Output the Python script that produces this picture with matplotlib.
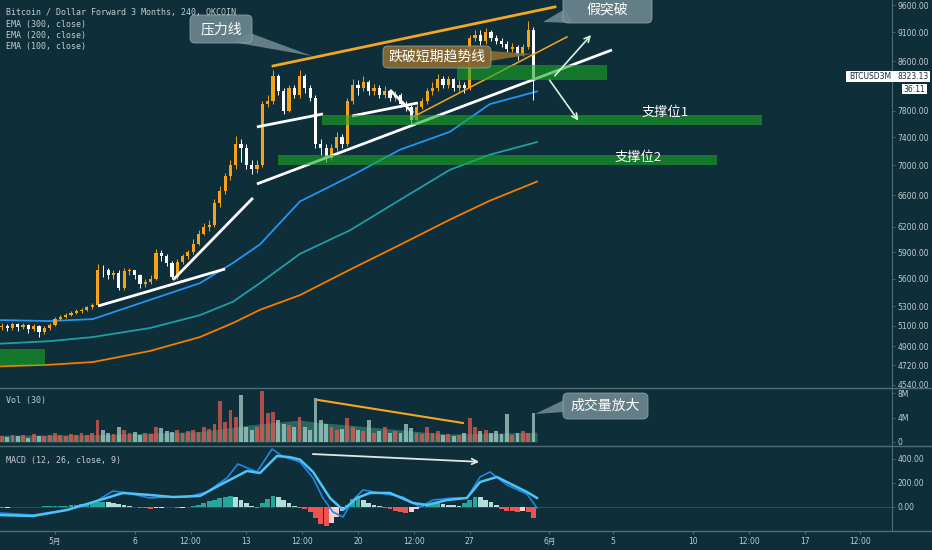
import numpy as np
import matplotlib
matplotlib.use("Agg")
from matplotlib import pyplot as plt
from matplotlib.patches import FancyBboxPatch, Polygon, Rectangle
from matplotlib.ticker import FixedLocator, NullLocator

plt.rcParams['font.family'] = ['DejaVu Sans', 'Noto Sans CJK SC']

#-----------------------------------------------------------------------------------------
# 8h candles, time in days since 1 May 00:00

start_day = -10 / 3
step = 1 / 3

close = [5100, 5080, 5120, 5090, 5110, 5070, 5100, 5040, 5080, 5110,
         5170, 5190, 5210, 5230, 5250, 5260, 5290, 5320, 5700, 5690,
         5640, 5660, 5500, 5680, 5690, 5640, 5540, 5560, 5600, 5890,
         5850, 5780, 5620, 5790, 5850, 5900, 6000, 6120, 6200, 6230,
         6500, 6650, 6850, 7000, 7300, 7250, 7000, 6950, 7000, 7900,
         7950, 8350, 8100, 7800, 8150, 8050, 8350, 8150, 8000, 7300,
         7250, 7100, 7250, 7400, 7300, 7950, 8200, 8150, 8250, 8100,
         8150, 8050, 8100, 8000, 8050, 7900, 7850, 7650, 7850, 7950,
         8100, 8150, 8300, 8200, 8300, 8150, 8200, 8150, 9000, 9050,
         8950, 9100, 9000, 8950, 8900, 8800, 8850, 8700, 8850, 9150,
         8323]
high = [5130, 5120, 5140, 5130, 5130, 5120, 5120, 5110, 5100, 5130,
        5190, 5210, 5230, 5250, 5270, 5280, 5310, 5340, 5760, 5750,
        5720, 5700, 5690, 5720, 5720, 5700, 5650, 5600, 5640, 5940,
        5930, 5880, 5800, 5820, 5880, 5930, 6050, 6160, 6250, 6290,
        6550, 6720, 6900, 7080, 7420, 7380, 7300, 7080, 7080, 7950,
        8050, 8450, 8380, 8150, 8200, 8200, 8450, 8380, 8200, 8050,
        7380, 7300, 7300, 7480, 7450, 8000, 8300, 8280, 8350, 8280,
        8220, 8200, 8180, 8120, 8100, 8080, 7950, 7880, 7900, 8000,
        8150, 8250, 8380, 8350, 8350, 8320, 8280, 8250, 9050, 9150,
        9150, 9180, 9150, 9050, 9000, 8950, 8920, 8880, 8900, 9300,
        9200]
low = [5060, 5050, 5060, 5050, 5070, 5030, 5050, 4990, 5020, 5060,
       5100, 5160, 5180, 5200, 5220, 5230, 5250, 5270, 5300, 5620,
       5600, 5600, 5470, 5480, 5640, 5600, 5500, 5510, 5540, 5580,
       5800, 5740, 5600, 5600, 5760, 5820, 5880, 5980, 6100, 6150,
       6200, 6450, 6620, 6800, 6950, 7050, 6950, 6880, 6900, 6980,
       7850, 7900, 8050, 7750, 7780, 8000, 8000, 8080, 7950, 7250,
       7150, 7050, 7080, 7200, 7250, 7280, 7900, 8050, 8100, 8050,
       8050, 8000, 8000, 7950, 7950, 7850, 7800, 7580, 7640, 7820,
       7900, 8050, 8100, 8150, 8150, 8100, 8100, 8080, 8120, 8950,
       8880, 8900, 8950, 8900, 8850, 8750, 8750, 8620, 8680, 8800,
       7960]
first_open = 5090

volume_m = [1.0, 0.8, 1.2, 0.9, 1.1, 0.7, 1.3, 0.9, 1.0, 1.2,
            1.5, 1.2, 1.0, 1.3, 1.1, 1.4, 1.2, 1.5, 3.6, 2.0,
            1.5, 1.3, 2.5, 2.0, 1.4, 1.6, 1.2, 1.5, 1.3, 2.5,
            2.3, 1.8, 1.6, 2.0, 1.5, 1.8, 2.0, 1.7, 2.5, 2.2,
            3.0, 6.7, 3.2, 5.2, 4.1, 7.7, 2.5, 2.0, 2.5, 8.4,
            4.7, 4.9, 3.6, 3.0, 2.8, 2.5, 4.1, 2.5, 2.0, 7.2,
            3.6, 3.0, 2.5, 2.0, 2.2, 4.0, 2.5, 2.0, 1.8, 3.6,
            1.5, 1.8, 2.5, 1.5, 1.8, 1.5, 3.0, 2.3, 1.5, 1.3,
            2.5, 1.5, 1.8, 1.2, 1.3, 1.0, 1.2, 1.5, 3.9, 2.5,
            1.8, 2.0, 1.5, 1.8, 1.3, 4.6, 1.2, 1.5, 1.8, 1.5,
            4.7]

hist = [-12, -8, -4, -2, 0, 2, 3, 4, 5, 6,
        8, 10, 12, 15, 18, 22, 28, 34,
        40, 42, 38, 30, 22,
        15, 8, 2, -5, -10,
        -15, -10, -5, 2, -3, -8,
        -5, 2, 10, 20, 35, 50,
        60, 72, 85, 92, 80, 60,
        30, 5, -5,
        30, 65, 92, 85, 60, 30,
        5, -10, -20, -40,
        -90, -140, -160, -130, -80, -30,
        20, 70, 75, 55, 35, 15, 5,
        -5, -15, -30, -45, -50, -40, -20,
        5, 20, 30, 30, 25, 20, 15, 10,
        30, 60, 85, 80, 60, 40, 15,
        -15, -30, -35, -40, -35, -45, -90]

ema_days = [-3.45, -0.31, 2.38, 5.96, 9.09, 11.16, 12.85, 15.36, 18.50, 21.63, 24.76, 27.27, 30.22]
ema100 = [5160, 5150, 5170, 5370, 5550, 5775, 5990, 6520, 6850, 7220, 7480, 7900, 8100]
ema200 = [4925, 4950, 4990, 5080, 5210, 5350, 5550, 5880, 6160, 6540, 6940, 7150, 7330]
ema300 = [4710, 4725, 4750, 4855, 4990, 5130, 5265, 5420, 5700, 5985, 6290, 6530, 6780]

vol_ma_days = [-3.45, 2.82, 9.09, 12.23, 15.36, 16.18, 18.31, 20.38, 22.45, 24.58, 26.65, 30.22]
vol_ma = [1.1, 1.2, 1.7, 2.8, 3.6, 3.3, 2.8, 2.3, 1.8, 1.3, 1.4, 1.6]

macd_days = [-3.45, -1.38, 0.75, 2.38, 3.64, 4.51, 5.96, 7.02, 8.28, 9.53,
             10.78, 11.47, 12.66, 13.61, 14.29, 15.36, 16.18, 16.80, 17.43, 18.06,
             18.68, 19.31, 20.38, 21.82, 22.88, 23.70, 24.95, 25.83, 26.65, 27.27,
             28.34, 29.59, 30.22]
macd = [-50, -67, -25, 33, 133, 117, 75, 83, 83, 125,
        242, 358, 292, 483, 420, 375, 242, 75, -42, -83,
        58, 142, 117, 83, 0, 58, 75, 75, 250, 292,
        183, 108, -8]
signal_days = [-3.45, -1.38, 0.75, 2.82, 4.26, 5.96, 7.40, 9.09, 10.34, 12.04,
               12.85, 13.92, 14.73, 15.36, 16.18, 17.24, 18.06, 18.93, 19.75, 21.00,
               22.45, 23.32, 24.58, 25.83, 26.65, 27.71, 28.71, 29.59, 30.22]
signal = [-67, -75, -25, 58, 117, 100, 83, 92, 183, 300,
          283, 425, 415, 395, 292, 75, -25, 75, 117, 117,
          33, 17, 58, 75, 208, 250, 183, 125, 75]

price_ticks = [4540, 4720, 4900, 5100, 5300, 5600, 5900, 6200, 6600, 7000, 7400, 7800, 8600, 9100, 9600]
vol_ticks = [0, 4, 8]
vol_tick_labels = ['0', '4M', '8M']
macd_ticks = [0, 200, 400]
date_ticks = [0, 5, 8.5, 12, 15.5, 19, 22.5, 26, 31, 35, 40, 43.5, 47, 50.5]
date_labels = ['5月', '6', '12:00', '13', '12:00', '20', '12:00', '27', '6月', '5', '10', '12:00', '17', '12:00']

# drawings: (day, price)
resist_line = [(13.67, 8517), (31.35, 9569)]
short_trend = [(22.45, 7702), (32.10, 9019)]
white_lines = [[(2.70, 5305), (10.66, 5707)],
               [(7.40, 5585), (12.41, 6565)],
               [(12.66, 7552), (16.80, 7748)],
               [(12.66, 6749), (34.92, 8790)],
               [(18.62, 7717), (22.76, 7918)],
               [(21.00, 8123), (22.45, 7763)]]
zones = [(-3.45, -0.63, 4723, 4874),
         (25.20, 34.61, 8286, 8535),
         (16.74, 44.33, 7582, 7733),
         (13.98, 41.50, 7007, 7146)]
last_price = 8323.13

#-----------------------------------------------------------------------------------------

bg = '#0e2e3a'
grid_c = '#4f6c76'
txt_c = '#c3cdd1'
up_c = '#f7a21b'
dn_c = '#ffffff'

o = np.array([first_open] + close[:-1], dtype=float)
c = np.array(close, dtype=float)
h = np.array(high, dtype=float)
l = np.array(low, dtype=float)
t = start_day + step * np.arange(len(c))
is_up = c >= o
candle_colors = np.where(is_up, up_c, dn_c)

W, H = 932, 550
fig = plt.figure(figsize=(W / 100, H / 100), dpi=100, facecolor=bg)
right = 892 / W
ax = fig.add_axes([0, 1 - 388 / H, right, 388 / H], facecolor=bg)
ax_v = fig.add_axes([0, 1 - 446 / H, right, 58 / H], facecolor=bg)
ax_m = fig.add_axes([0, 1 - 531 / H, right, 85 / H], facecolor=bg)

xlim = (-3.448, 52.48)
for a in (ax, ax_v, ax_m):
    a.set_xlim(*xlim)
    for s in ('top', 'left', 'bottom'):
        a.spines[s].set_visible(False)
    a.spines['right'].set_color(grid_c)
    a.yaxis.tick_right()
    a.tick_params(axis='y', which='both', labelsize=5.5, colors=grid_c, labelcolor=txt_c,
                  length=2.5, width=0.6, pad=1.5)
ax.set_xticks([])
ax_v.set_xticks([])

# price panel
ax.set_yscale('log')
ax.set_ylim(4513, 9700)
ax.yaxis.set_major_locator(FixedLocator(price_ticks))
ax.yaxis.set_minor_locator(NullLocator())
ax.set_yticklabels([f"{v:.2f}" for v in price_ticks])

ax.plot(ema_days, ema300, color='#f57c00', lw=1.3, zorder=2)
ax.plot(ema_days, ema200, color='#1e9fa3', lw=1.3, zorder=2)
ax.plot(ema_days, ema100, color='#2196f3', lw=1.3, zorder=2)

ax.vlines(t, l, h, colors=candle_colors, lw=0.7, zorder=3)
ax.bar(t, np.maximum(np.abs(c - o), 8), bottom=np.minimum(o, c), width=0.2,
       color=candle_colors, zorder=3)

(x0, y0), (x1, y1) = resist_line
ax.plot([x0, x1], [y0, y1], color='#f5a623', lw=2, zorder=4)
(x0, y0), (x1, y1) = short_trend
ax.plot([x0, x1], [y0, y1], color='#f5a623', lw=1.1, zorder=4)
for (x0, y0), (x1, y1) in white_lines:
    ax.plot([x0, x1], [y0, y1], color='white', lw=2, zorder=4, solid_capstyle='butt')

for ta, tb, pa, pb in zones:
    ax.add_patch(Rectangle((ta, pa), tb - ta, pb - pa, facecolor='#1ba924', alpha=0.6,
                           edgecolor='none', zorder=5))

arrow_kw = dict(arrowstyle='->', color='#d9f3dc', lw=1.2, mutation_scale=10)
ax.annotate('', xy=(33.73, 9090), xytext=(31.22, 8319), arrowprops=arrow_kw, zorder=6)
ax.annotate('', xy=(32.92, 7612), xytext=(30.91, 8319), arrowprops=arrow_kw, zorder=6)

cjk = ['Noto Sans CJK SC', 'DejaVu Sans']
ax.text(38.24, 7779, '支撑位1', color='white', fontsize=9.5, family=cjk,
        ha='center', va='center', zorder=7)
ax.text(36.55, 7118, '支撑位2', color='white', fontsize=9.5, family=cjk,
        ha='center', va='center', zorder=7)

mono = 'DejaVu Sans Mono'
hdr = ['Bitcoin / Dollar Forward 3 Months, 240, OKCOIN',
       'EMA (300, close)', 'EMA (200, close)', 'EMA (100, close)']
for k, s in enumerate(hdr):
    fig.text(6 / W, 1 - (13 + 11.3 * k) / H, s, fontsize=6, family=mono, color=txt_c, va='center')

# volume panel
ax_v.set_ylim(-0.66, 8.85)
ax_v.set_yticks(vol_ticks)
ax_v.set_yticklabels(vol_tick_labels)
ax_v.fill_between(vol_ma_days, 0, vol_ma, color='#28665f', lw=0, zorder=1)
vol_colors = np.where(is_up, '#e35a52', '#a9cec8')
ax_v.bar(t, volume_m, width=0.24, color=vol_colors, alpha=0.75, zorder=2)
ax_v.plot([16.49, 25.58], [6.89, 3.11], color='#f5a623', lw=1.5, zorder=3)
fig.text(6 / W, 1 - 400 / H, 'Vol (30)', fontsize=6, family=mono, color=txt_c, va='center')

# MACD panel
ax_m.set_ylim(-200, 508)
ax_m.set_yticks(macd_ticks)
ax_m.set_yticklabels([f"{v:.2f}" for v in macd_ticks])
hv = np.array(hist, dtype=float)
prev = np.concatenate([[hv[0]], hv[:-1]])
hcols = np.where(hv >= 0, np.where(hv >= prev, '#26a69a', '#b2dfdb'),
                 np.where(hv <= prev, '#ef5350', '#ffcdd2'))
ax_m.bar(t, hv, width=0.3, color=hcols, zorder=2)
ax_m.axhline(0, color='#3c5a64', lw=0.5, zorder=1)
ax_m.plot(macd_days, macd, color='#1e88e5', lw=1.2, zorder=3)
ax_m.plot(signal_days, signal, color='#4fc3f7', lw=1.8, zorder=3)
ax_m.annotate('', xy=(26.77, 375), xytext=(15.99, 442),
              arrowprops=dict(arrowstyle='->', color='#e2e8ea', lw=1.3, mutation_scale=10))
fig.text(6 / W, 1 - 460 / H, 'MACD (12, 26, close, 9)', fontsize=6, family=mono,
         color=txt_c, va='center')

ax_m.set_xticks(date_ticks)
ax_m.set_xticklabels(date_labels)
ax_m.tick_params(axis='x', labelsize=5.5, colors=grid_c, labelcolor=txt_c, length=2, pad=2.5)

# overlay in pixel coordinates for separators, callouts and price label
ov = fig.add_axes([0, 0, 1, 1])
ov.set_xlim(0, W)
ov.set_ylim(H, 0)
ov.axis('off')
ov.patch.set_alpha(0)
for yy in (388, 446, 531):
    ov.plot([0, W], [yy, yy], color=grid_c, lw=1)


def callout(x0, y0, x1, y1, base, tip, text, fc):
    ov.add_patch(Polygon(base + [tip], closed=True, facecolor=fc, edgecolor='none', alpha=0.92))
    ov.add_patch(FancyBboxPatch((x0, y0), x1 - x0, y1 - y0,
                                boxstyle='round,pad=0,rounding_size=5',
                                facecolor=fc, edgecolor='#8fa4ab', lw=0.6, alpha=0.92))
    ov.text((x0 + x1) / 2, (y0 + y1) / 2, text, color='white', fontsize=10,
            family=cjk, ha='center', va='center')


callout(190, 15, 252, 43, [(232, 42), (250, 33)], (312, 56), '压力线', '#6c868f')
callout(563, -4, 652, 23, [(565, 9), (573, 23)], (543, 22), '假突破', '#6c868f')
callout(383, 46, 491, 68, [(490, 51), (490, 61)], (533, 54), '跌破短期趋势线', '#8b6b32')
callout(563, 393, 648, 419, [(564, 400), (564, 412)], (535, 414), '成交量放大', '#6c868f')

ov.add_patch(Rectangle((846, 71), 84, 11, facecolor='white', edgecolor='none'))
ov.text(849, 76.5, 'BTCUSD3M', fontsize=5.5, color='#1b2a31', va='center')
ov.text(898, 76.5, f"{last_price:.2f}", fontsize=5.5, color='#1b2a31', va='center')
ov.add_patch(Rectangle((902, 84), 25, 10, facecolor='white', edgecolor='none'))
ov.text(914.5, 89, '36:11', fontsize=5.5, color='#1b2a31', va='center', ha='center')

fig.savefig('out.png', dpi=100, facecolor=bg)
